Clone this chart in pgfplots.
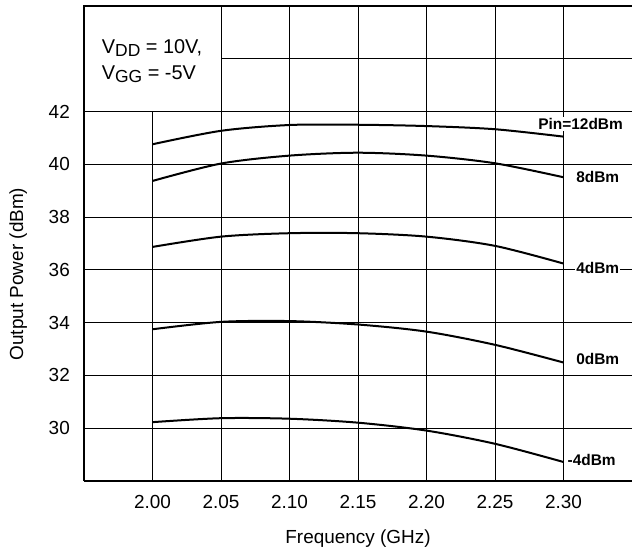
\documentclass[border=0pt]{standalone}
\usepackage{pgfplots}
\pgfplotsset{compat=1.18}
\usepackage{fontspec}
\setmainfont{Liberation Sans}

\begin{document}
\begin{tikzpicture}
\useasboundingbox (0,0) rectangle (632bp,552bp);
\begin{axis}[
 at={(84bp,71bp)}, anchor=south west,
 scale only axis, width=548bp, height=475bp,
 xmin=1.95, xmax=2.35, ymin=28, ymax=46,
 axis x line*=bottom, axis y line*=left,
 axis line style={line width=2bp},
 xtick={2.00,2.05,2.10,2.15,2.20,2.25,2.30},
 xticklabels={2.00,2.05,2.10,2.15,2.20,2.25,2.30},
 ytick={30,32,34,36,38,40,42},
 major tick length=0pt,
 tick label style={font=\fontsize{19}{23}\selectfont, inner sep=0pt},
 xticklabel style={anchor=north, yshift=-14.5bp},
 yticklabel style={anchor=east, xshift=-14bp},
 /pgf/number format/assume math mode=true,
]
% grid
\pgfplotsinvokeforeach{30,32,34,36,38,40,42}{
 \draw[line width=0.9bp] (axis cs:1.95,#1) -- (axis cs:2.35,#1);
}
\draw[line width=0.9bp] (axis cs:2.05,44) -- (axis cs:2.35,44);
\draw[line width=0.9bp] (axis cs:2.00,28) -- (axis cs:2.00,42);
\pgfplotsinvokeforeach{2.05,2.10,2.15,2.20,2.25,2.30}{
 \draw[line width=0.9bp] (axis cs:#1,28) -- (axis cs:#1,46);
}

% Pin = 12 dBm
\addplot[black, line width=2bp, smooth] coordinates {
 (2.00,40.76) (2.05,41.27) (2.10,41.49) (2.15,41.50)
 (2.20,41.45) (2.25,41.33) (2.30,41.05)};
% 8 dBm
\addplot[black, line width=2bp, smooth] coordinates {
 (2.00,39.37) (2.05,40.03) (2.10,40.33) (2.15,40.44)
 (2.20,40.33) (2.25,40.04) (2.30,39.51)};
% 4 dBm
\addplot[black, line width=2bp, smooth] coordinates {
 (2.00,36.87) (2.05,37.26) (2.10,37.39) (2.15,37.39)
 (2.20,37.26) (2.25,36.91) (2.30,36.24)};
% 0 dBm
\addplot[black, line width=2bp, smooth] coordinates {
 (2.00,33.75) (2.05,34.03) (2.10,34.06) (2.15,33.93)
 (2.20,33.66) (2.25,33.16) (2.30,32.49)};
% -4 dBm
\addplot[black, line width=2bp, smooth] coordinates {
 (2.00,30.23) (2.05,30.38) (2.10,30.36) (2.15,30.21)
 (2.20,29.91) (2.25,29.41) (2.30,28.72)};

\begin{scope}[every node/.style={anchor=base west, inner sep=1.2bp, fill=white,
 font=\bfseries\fontsize{15.5}{18}\selectfont}]
\node at (axis cs:2.2806,41.33) {Pin=12dBm};
\node at (axis cs:2.3083,39.30) {8dBm};
\node at (axis cs:2.3083,35.86) {4dBm};
\node at (axis cs:2.3083,32.42) {0dBm};
\node at (axis cs:2.3020,28.57) {-4dBm};
\end{scope}

\node[anchor=base west, inner sep=0pt, font=\fontsize{20}{24}\selectfont]
 at (axis cs:1.9629,44.21) {V\raisebox{-3.4bp}{\fontsize{17.5}{20}\selectfont DD} = 10V,};
\node[anchor=base west, inner sep=0pt, font=\fontsize{20}{24}\selectfont]
 at (axis cs:1.9629,43.23) {V\raisebox{-3.4bp}{\fontsize{17.5}{20}\selectfont GG} = -5V};
\end{axis}
\draw[line width=2bp] (83bp,546bp) -- (632bp,546bp);
\node[anchor=base, inner sep=0pt, font=\fontsize{19}{23}\selectfont]
 at (358bp,9bp) {Frequency (GHz)};
\node[anchor=base, rotate=90, inner sep=0pt, font=\fontsize{19}{23}\selectfont]
 at (23bp,278bp) {Output Power (dBm)};
\end{tikzpicture}
\end{document}
